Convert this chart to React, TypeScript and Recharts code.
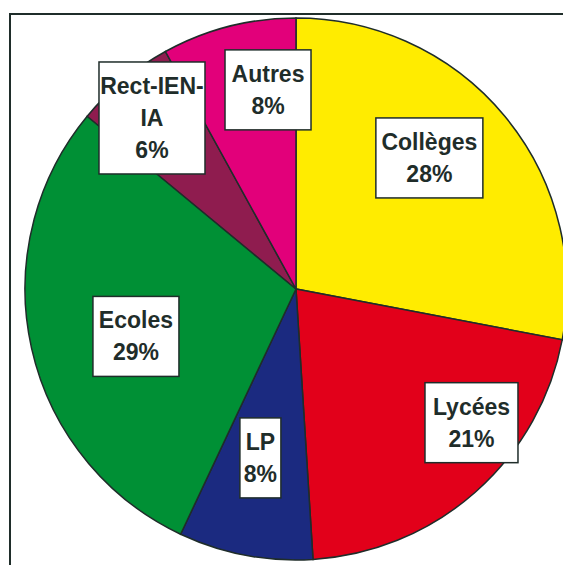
import { PieChart, Pie, Cell } from 'recharts';

const categories = ['Collèges', 'Lycées', 'LP', 'Ecoles', 'Rect-IEN-IA', 'Autres'];
const shares = [28, 21, 8, 29, 6, 8];
const labelLines = [['Collèges'], ['Lycées'], ['LP'], ['Ecoles'], ['Rect-IEN-', 'IA'], ['Autres']];
const sliceColors = ['#FFEC00', '#E2001A', '#1B2A80', '#009035', '#8F1C4F', '#E2007A'];

// where Excel dropped each label box: fraction of radius, angle shift from mid-angle, box width
const labelPlacement = [
  { radius: 0.69, shift: 4.9, width: 107 },
  { radius: 0.814, shift: 11.3, width: 93 },
  { radius: 0.637, shift: -1.1, width: 41 },
  { radius: 0.616, shift: 3.9, width: 86 },
  { radius: 0.825, shift: 0.5, width: 106 },
  { radius: 0.742, shift: -6.4, width: 86 },
];

const RADIAN = Math.PI / 180;
const ink = '#1f2d2a';

const data = categories.map((name, i) => ({ name, value: shares[i] }));

function BoxLabel(props: any) {
  const { cx, cy, midAngle, outerRadius, index, value } = props;
  const place = labelPlacement[index];
  const a = (midAngle + place.shift) * RADIAN;
  const r = outerRadius * place.radius;
  const x = cx + r * Math.cos(a);
  const y = cy - r * Math.sin(a);
  const lines = [...labelLines[index], `${value}%`];
  const h = lines.length * 32 + 16;
  const w = place.width;
  const left = x - w / 2;
  const top = y - h / 2;
  const clipId = `lbl-clip-${index}`;
  return (
    <g>
      <defs>
        <clipPath id={clipId}>
          <rect x={left} y={top} width={w} height={h} />
        </clipPath>
      </defs>
      <rect x={left} y={top} width={w} height={h} fill="#fff" stroke={ink} strokeWidth={1.5} />
      <g clipPath={`url(#${clipId})`}>
        {lines.map((t, i) => (
          <text
            key={i}
            x={x}
            y={top + 24 + i * 32 + 8}
            textAnchor="middle"
            fill={ink}
            fontFamily="'Liberation Sans', Arial, sans-serif"
            fontWeight="bold"
            fontSize={23}
          >
            {t}
          </text>
        ))}
      </g>
    </g>
  );
}

export default function App() {
  return (
    <div style={{ position: 'fixed', left: 0, top: 0, width: 563, height: 565, overflow: 'hidden', background: '#fff' }}>
      <div
        style={{
          position: 'absolute',
          left: 9,
          top: 13,
          width: 700,
          height: 700,
          borderLeft: `2px solid ${ink}`,
          borderTop: `2px solid ${ink}`,
        }}
      />
      <div style={{ position: 'absolute', left: 0, top: 0 }}>
        <PieChart width={563} height={565} margin={{ top: 0, right: 0, bottom: 0, left: 0 }}>
          <Pie
            data={data}
            dataKey="value"
            nameKey="name"
            cx={296}
            cy={289}
            outerRadius={271}
            startAngle={90}
            endAngle={-270}
            stroke={ink}
            strokeWidth={1.5}
            label={BoxLabel}
            labelLine={false}
            isAnimationActive={false}
          >
            {data.map((entry, index) => (
              <Cell key={`cell-${index}`} fill={sliceColors[index]} />
            ))}
          </Pie>
        </PieChart>
      </div>
    </div>
  );
}
